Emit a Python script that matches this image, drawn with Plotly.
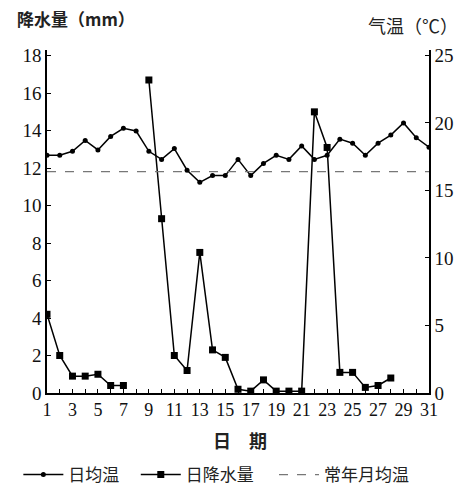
import plotly.graph_objects as go

days = list(range(1, 32))
temp = [17.6, 17.6, 17.9, 18.7, 18.0, 19.0, 19.6, 19.4, 17.9, 17.3,
        18.1, 16.5, 15.6, 16.1, 16.1, 17.3, 16.1, 17.0, 17.6, 17.3,
        18.3, 17.3, 17.6, 18.8, 18.5, 17.6, 18.5, 19.1, 20.0, 18.9, 18.2]
precip = [4.2, 2.0, 0.9, 0.9, 1.0, 0.4, 0.4, None, 16.7, 9.3,
          2.0, 1.2, 7.5, 2.3, 1.9, 0.2, 0.1, 0.7, 0.1, 0.1,
          0.1, 15.0, 13.1, 1.1, 1.1, 0.3, 0.4, 0.8, None, None, None]
normal_x = [1, 31]
normal_temp = [16.4, 16.4]

left_ticks = [0, 2, 4, 6, 8, 10, 12, 14, 16, 18]
right_ticks = [0, 5, 10, 15, 20, 25]
x_ticks = list(range(1, 32, 2))

serif = "Liberation Serif"
cjk = "Noto Sans CJK SC"

fig = go.Figure()
fig.add_trace(go.Scatter(
    x=days, y=temp, yaxis="y2", name="日均温   ", mode="lines+markers",
    line=dict(color="black", width=1.5),
    marker=dict(symbol="circle", size=5, color="black")))
fig.add_trace(go.Scatter(
    x=days, y=precip, yaxis="y", name="日降水量    ", mode="lines+markers",
    connectgaps=False,
    line=dict(color="black", width=1.5),
    marker=dict(symbol="square", size=7, color="black")))
fig.add_trace(go.Scatter(
    x=normal_x, y=normal_temp, yaxis="y2", name="常年月均温", mode="lines",
    line=dict(color="#777777", width=1.2, dash="dash")))

fig.update_layout(
    width=474, height=496,
    margin=dict(l=47, r=45, t=50, b=103, autoexpand=False),
    paper_bgcolor="white", plot_bgcolor="white",
    showlegend=True,
    legend=dict(orientation="h", xref="paper", yref="paper",
                x=-0.075, xanchor="left", y=-0.239, yanchor="middle",
                font=dict(family=cjk, size=17, color="#222"),
                itemwidth=40, tracegroupgap=0, bgcolor="rgba(0,0,0,0)"),
    xaxis=dict(range=[1, 31], tickvals=x_ticks, ticktext=[str(v) for v in x_ticks],
               automargin=False,
               showline=True, linecolor="black", linewidth=1.5, mirror=False,
               ticks="inside", ticklen=4, tickcolor="black",
               minor=dict(dtick=1, ticks="inside", ticklen=4, tickcolor="black"),
               showgrid=False, zeroline=False,
               tickfont=dict(family=serif, size=18, color="#111")),
    yaxis=dict(range=[0, 18.3], tickvals=left_ticks, automargin=False,
               showline=True, linecolor="black", linewidth=1.5,
               ticks="inside", ticklen=4, tickcolor="black",
               showgrid=False, zeroline=False,
               tickfont=dict(family=serif, size=19, color="#111")),
    yaxis2=dict(range=[0, 25.4], tickvals=right_ticks, overlaying="y", side="right",
                automargin=False,
                showline=True, linecolor="black", linewidth=1.5,
                ticks="inside", ticklen=4, tickcolor="black",
                showgrid=False, zeroline=False,
                tickfont=dict(family=serif, size=19, color="#111")),
    annotations=[
        dict(text="<b>降水量（mm）</b>", x=-0.085, y=1.093, xref="paper", yref="paper",
             xanchor="left", yanchor="middle", showarrow=False,
             font=dict(family=cjk, size=17, color="#222")),
        dict(text="气温（℃）", x=0.835, y=1.073, xref="paper", yref="paper",
             xanchor="left", yanchor="middle", showarrow=False,
             font=dict(family=cjk, size=18, color="#222")),
        dict(text="<b>日　期</b>", x=0.505, y=-0.137, xref="paper", yref="paper",
             xanchor="center", yanchor="middle", showarrow=False,
             font=dict(family=cjk, size=18, color="#222")),
    ],
)

fig.write_html("out.html", config={"displayModeBar": False},
               post_script="document.body.style.margin='0';document.body.style.overflow='hidden';")
